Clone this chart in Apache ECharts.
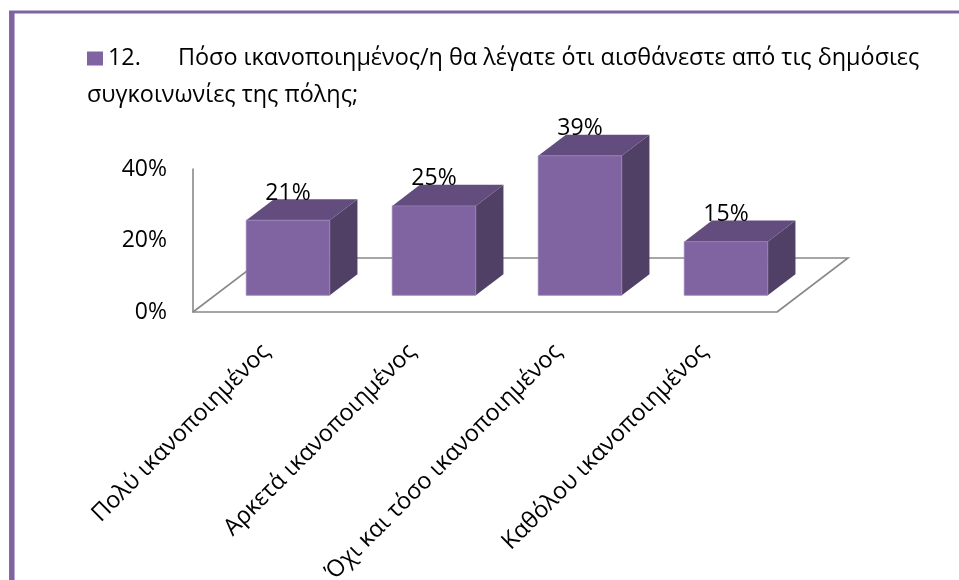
<!DOCTYPE html>
<html>
<head>
<meta charset="utf-8">
<script src="https://cdn.jsdelivr.net/npm/echarts@6/dist/echarts.min.js"></script>
<style>
  html, body { margin: 0; padding: 0; background: #ffffff; }
  #chart { width: 959px; height: 580px; }
</style>
</head>
<body>
<div id="chart"></div>
<script>
// Survey question 12 – satisfaction with the city's public transport
const questionNo = '12.';
const questionLines = [
  'Πόσο ικανοποιημένος/η θα λέγατε ότι αισθάνεστε από τις δημόσιες',
  'συγκοινωνίες της πόλης;'
];
const categories = [
  'Πολύ ικανοποιημένος',
  'Αρκετά ικανοποιημένος',
  'Όχι και τόσο ικανοποιημένος',
  'Καθόλου ικανοποιημένος'
];
const values = [21, 25, 39, 15];
const yMin = 0, yMax = 40, yStep = 20;

const seriesName = questionNo + ' ' + questionLines.join(' ');

const FONT = '"Open Sans", "Noto Sans", sans-serif';
const FRONT = '#8064A2';
const TOP = '#634C7E';
const SIDE = '#504066';
const EDGE = '#898989';

// oblique depth of the floor and where the boxes sit inside it
const DEPTH = [71, -54];
const BAR_FRONT = 0.31, BAR_BACK = 0.70;
const BAR_RATIO = 0.572;

function floorItem(params, api) {
  if (params.dataIndex !== 0) return null;
  const cs = params.coordSys;
  const x0 = cs.x, x1 = cs.x + cs.width, y0 = cs.y + cs.height;
  return {
    type: 'polyline',
    shape: { points: [[x0, y0], [x0 + DEPTH[0], y0 + DEPTH[1]], [x1 + DEPTH[0], y0 + DEPTH[1]], [x1, y0]] },
    style: { stroke: EDGE, lineWidth: 1.6, fill: null },
    silent: true
  };
}

function barItem(params, api) {
  const idx = api.value(0);
  const val = api.value(1);
  const base = api.coord([idx, 0]);
  const top = api.coord([idx, val]);
  const w = api.size([1, 0])[0] * BAR_RATIO;
  const fx = BAR_FRONT * DEPTH[0], fy = BAR_FRONT * DEPTH[1];
  const dx = (BAR_BACK - BAR_FRONT) * DEPTH[0], dy = (BAR_BACK - BAR_FRONT) * DEPTH[1];
  const l = base[0] + fx - w / 2, r = base[0] + fx + w / 2;
  const b = base[1] + fy, t = top[1] + fy;
  return {
    type: 'group',
    children: [
      { type: 'polygon', shape: { points: [[r, t], [r + dx, t + dy], [r + dx, b + dy], [r, b]] }, style: { fill: SIDE } },
      { type: 'polygon', shape: { points: [[l, t], [l + dx, t + dy], [r + dx, t + dy], [r, t]] }, style: { fill: TOP } },
      { type: 'rect', shape: { x: l, y: t, width: w, height: b - t }, style: { fill: FRONT, stroke: '#9580B5', lineWidth: 0.8 } },
      { type: 'text', style: { text: val + '%', x: (l + r) / 2, y: t + dy - 6, align: 'center', verticalAlign: 'middle', font: '23px ' + FONT, fill: '#000' } }
    ]
  };
}

const chart = echarts.init(document.getElementById('chart'), null, { renderer: 'canvas' });
chart.setOption({
  animation: false,
  backgroundColor: '#ffffff',
  legend: {
    data: [seriesName],
    left: 87,
    top: 47,
    padding: 0,
    icon: 'rect',
    itemWidth: 16,
    itemHeight: 14,
    formatter: () => '{n|' + questionNo + '}{t|' + questionLines[0] + '}',
    textStyle: {
      rich: {
        n: { fontFamily: FONT, fontSize: 23.4, color: '#000', width: 70 },
        t: { fontFamily: FONT, fontSize: 23.4, color: '#000' }
      }
    }
  },
  title: {
    text: questionLines[1],
    left: 87,
    top: 84,
    padding: 0,
    textStyle: { fontFamily: FONT, fontSize: 23.4, fontWeight: 'normal', color: '#000' }
  },
  graphic: [
    { type: 'line', shape: { x1: 9, y1: 12, x2: 959, y2: 12 }, style: { stroke: FRONT, lineWidth: 3 } },
    { type: 'line', shape: { x1: 11.8, y1: 11, x2: 11.8, y2: 580 }, style: { stroke: FRONT, lineWidth: 5.5 } }
  ],
  grid: { left: 193, right: 182, top: 169, bottom: 268, containLabel: false, outerBoundsMode: 'none' },
  xAxis: {
    type: 'category',
    data: categories,
    axisLine: { show: true, lineStyle: { color: EDGE, width: 1.6 } },
    axisTick: { show: false },
    axisLabel: { rotate: 45, margin: 36, interval: 0, fontFamily: FONT, fontSize: 23.4, color: '#000' },
    splitLine: { show: false }
  },
  yAxis: {
    type: 'value',
    min: yMin,
    max: yMax,
    interval: yStep,
    axisLine: { show: true, lineStyle: { color: EDGE, width: 1.6 } },
    axisTick: { show: false },
    splitLine: { show: false },
    axisLabel: { formatter: '{value}%', margin: 26, fontFamily: FONT, fontSize: 23, color: '#000' }
  },
  series: [
    {
      type: 'custom',
      name: 'floor',
      renderItem: floorItem,
      data: [[0, 0]],
      z: 1,
      silent: true,
      clip: false
    },
    {
      type: 'custom',
      name: seriesName,
      renderItem: barItem,
      data: values.map((v, i) => [i, v]),
      itemStyle: { color: FRONT },
      encode: { x: 0, y: 1 },
      z: 2,
      clip: false
    }
  ]
});
</script>
</body>
</html>
